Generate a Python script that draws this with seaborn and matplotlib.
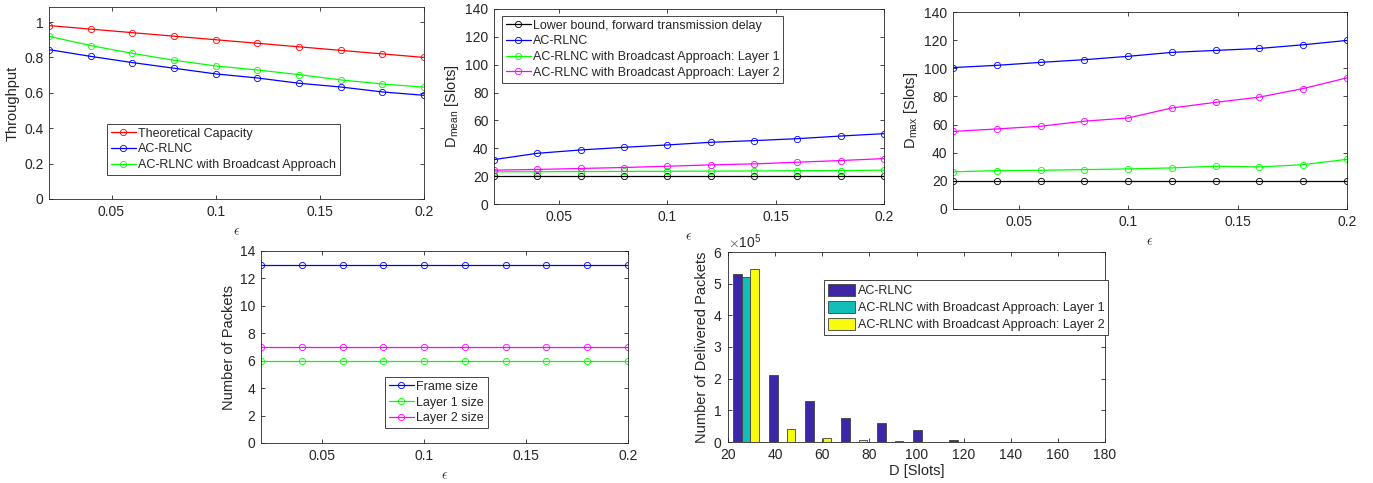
import numpy as np
import pandas as pd
import matplotlib
matplotlib.use("Agg")
import matplotlib.pyplot as plt
from matplotlib.ticker import FuncFormatter
import seaborn as sns

sns.set_style("ticks")
plt.rcParams["font.family"] = ["Liberation Sans", "DejaVu Sans"]
plt.rcParams["mathtext.fontset"] = "cm"
plt.rcParams["text.color"] = "#262626"
plt.rcParams["axes.labelcolor"] = "#262626"
plt.rcParams["xtick.color"] = "#262626"
plt.rcParams["ytick.color"] = "#262626"

# data
eps = [0.02, 0.04, 0.06, 0.08, 0.10, 0.12, 0.14, 0.16, 0.18, 0.20]

thr_capacity = [0.98, 0.96, 0.94, 0.92, 0.90, 0.88, 0.86, 0.84, 0.82, 0.80]
thr_acrlnc = [0.844, 0.806, 0.771, 0.739, 0.707, 0.684, 0.654, 0.633, 0.605, 0.586]
thr_broadcast = [0.919, 0.867, 0.823, 0.784, 0.752, 0.729, 0.703, 0.673, 0.650, 0.632]

dmean_lower = [20, 20, 20, 20, 20, 20, 20, 20, 20, 20]
dmean_acrlnc = [31.9, 36.4, 38.8, 40.7, 42.4, 44.3, 45.5, 46.9, 48.8, 50.5]
dmean_layer1 = [23.1, 23.2, 23.3, 23.4, 23.5, 23.6, 23.7, 23.9, 24.0, 24.3]
dmean_layer2 = [24.3, 24.8, 25.5, 26.2, 27.1, 28.1, 28.8, 30.0, 31.2, 32.6]

dmax_lower = [20, 20, 20, 20, 20, 20, 20, 20, 20, 20]
dmax_acrlnc = [100.5, 102.1, 104.2, 106.1, 108.5, 111.3, 112.7, 114.1, 116.7, 119.8]
dmax_layer1 = [26.4, 27.3, 27.5, 28.0, 28.5, 29.2, 30.4, 29.9, 31.5, 35.3]
dmax_layer2 = [55.1, 56.9, 58.8, 62.4, 64.7, 71.8, 75.8, 79.5, 85.6, 93.2]

frame_size = [13] * 10
layer1_size = [6] * 10
layer2_size = [7] * 10

bin_centers = [27.7, 43.0, 58.3, 73.6, 88.9, 104.2, 119.5, 134.8, 150.1, 165.4]
hist_acrlnc = [529000, 212000, 128000, 75500, 60000, 39000, 7000, 1000, 300, 100]
hist_layer1 = [520000, 0, 0, 0, 0, 0, 0, 0, 0, 0]
hist_layer2 = [545000, 41000, 11500, 5000, 2500, 1000, 500, 200, 100, 50]

W, H = 1373, 483
fig = plt.figure(figsize=(W / 100, H / 100), dpi=100)


def rect(l, t, r, b):
    return [l / W, 1 - b / H, (r - l) / W, (b - t) / H]


gfmt = FuncFormatter(lambda v, p: "%g" % v)


def style(ax):
    ax.tick_params(direction="in", top=True, right=True, labelsize=10,
                   length=3, width=0.6, pad=4)
    for s in ax.spines.values():
        s.set_linewidth(0.6)
        s.set_color("#262626")


def line(ax, y, color, label):
    sns.lineplot(x=eps, y=y, ax=ax, color=color, marker="o", markersize=4.5,
                 markerfacecolor="none", markeredgecolor=color,
                 markeredgewidth=0.6, linewidth=0.9, label=label)


def leg(ax, loc, anchor):
    lg = ax.legend(loc=loc, bbox_to_anchor=anchor, fontsize=9, fancybox=False,
                   edgecolor="#262626", framealpha=1, borderpad=0.3,
                   labelspacing=0.3, handlelength=2.0, handletextpad=0.2,
                   borderaxespad=0)
    lg.get_frame().set_linewidth(0.6)


def eps_axis(ax):
    ax.set_xlim(0.02, 0.2)
    ax.set_xticks([0.05, 0.1, 0.15, 0.2])
    ax.xaxis.set_major_formatter(gfmt)
    ax.yaxis.set_major_formatter(gfmt)
    ax.set_xlabel(r"$\epsilon$", fontsize=10, labelpad=4)


# throughput
ax1 = fig.add_axes(rect(49, 7, 424, 199))
line(ax1, thr_capacity, "red", "Theoretical Capacity")
line(ax1, thr_acrlnc, "blue", "AC-RLNC")
line(ax1, thr_broadcast, "lime", "AC-RLNC with Broadcast Approach")
ax1.set_ylim(0, 1.085)
ax1.set_yticks([0, 0.2, 0.4, 0.6, 0.8, 1])
eps_axis(ax1)
ax1.set_ylabel("Throughput", fontsize=10.5, labelpad=3)
leg(ax1, "lower left", (0.155, 0.125))
style(ax1)

# mean delay
ax2 = fig.add_axes(rect(494, 9, 884, 204))
line(ax2, dmean_lower, "black", "Lower bound, forward transmission delay")
line(ax2, dmean_acrlnc, "blue", "AC-RLNC")
line(ax2, dmean_layer1, "lime", "AC-RLNC with Broadcast Approach: Layer 1")
line(ax2, dmean_layer2, "magenta", "AC-RLNC with Broadcast Approach: Layer 2")
ax2.set_ylim(0, 140)
ax2.set_yticks(range(0, 141, 20))
eps_axis(ax2)
ax2.set_ylabel(r"D$_{\mathregular{mean}}$ [Slots]", fontsize=10.5, labelpad=3)
leg(ax2, "upper left", (0.02, 0.965))
style(ax2)

# max delay
ax3 = fig.add_axes(rect(953, 12, 1347, 209))
line(ax3, dmax_lower, "black", None)
line(ax3, dmax_acrlnc, "blue", None)
line(ax3, dmax_layer1, "lime", None)
line(ax3, dmax_layer2, "magenta", None)
ax3.set_ylim(0, 140)
ax3.set_yticks(range(0, 141, 20))
eps_axis(ax3)
ax3.set_ylabel(r"D$_{\mathregular{max}}$ [Slots]", fontsize=10.5, labelpad=3)
if ax3.get_legend():
    ax3.get_legend().remove()
style(ax3)

# packet sizes
ax4 = fig.add_axes(rect(261, 251, 628, 443))
line(ax4, frame_size, "blue", "Frame size")
line(ax4, layer1_size, "lime", "Layer 1 size")
line(ax4, layer2_size, "magenta", "Layer 2 size")
ax4.set_ylim(0, 14)
ax4.set_yticks(range(0, 15, 2))
eps_axis(ax4)
ax4.set_ylabel("Number of Packets", fontsize=10.5, labelpad=3)
leg(ax4, "lower left", (0.338, 0.078))
style(ax4)

# delay histogram
names = ["AC-RLNC", "AC-RLNC with Broadcast Approach: Layer 1",
         "AC-RLNC with Broadcast Approach: Layer 2"]
hist = pd.DataFrame({
    "D": bin_centers * 3,
    "count": hist_acrlnc + hist_layer1 + hist_layer2,
    "series": [names[0]] * 10 + [names[1]] * 10 + [names[2]] * 10,
})
ax5 = fig.add_axes(rect(728, 252, 1105, 442))
sns.barplot(data=hist, x="D", y="count", hue="series", hue_order=names,
            native_scale=True, width=0.72, saturation=1,
            palette=["#3e26a8", "#13beb8", "#f9fb0e"],
            edgecolor="#404040", linewidth=0.6, ax=ax5)
ax5.set_xlim(20, 180)
ax5.set_xticks(range(20, 181, 20))
ax5.set_ylim(0, 6e5)
ax5.set_yticks(np.arange(0, 6.1e5, 1e5))
ax5.ticklabel_format(axis="y", style="sci", scilimits=(0, 0), useMathText=True)
ax5.yaxis.get_offset_text().set_fontsize(10)
ax5.set_xlabel("D [Slots]", fontsize=10.5, labelpad=2)
ax5.set_ylabel("Number of Delivered Packets", fontsize=10.5, labelpad=3)
lg = ax5.legend(loc="upper left", bbox_to_anchor=(0.255, 0.853), fontsize=9,
                fancybox=False, edgecolor="#262626", framealpha=1,
                borderpad=0.3, labelspacing=0.3, handlelength=2.2,
                handleheight=1.1, handletextpad=0.2, borderaxespad=0)
lg.get_frame().set_linewidth(0.6)
style(ax5)

fig.savefig("out.png", dpi=100)
